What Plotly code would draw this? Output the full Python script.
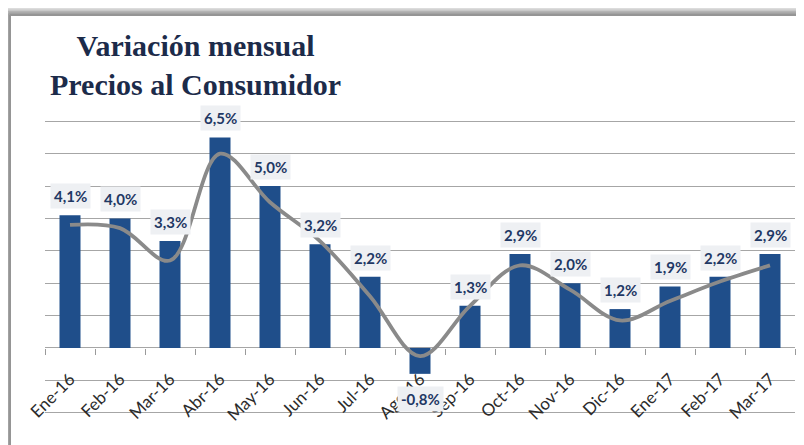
import plotly.graph_objects as go

meses = ['Ene-16', 'Feb-16', 'Mar-16', 'Abr-16', 'May-16', 'Jun-16', 'Jul-16', 'Ago-16',
         'Sep-16', 'Oct-16', 'Nov-16', 'Dic-16', 'Ene-17', 'Feb-17', 'Mar-17']
variacion = [4.1, 4.0, 3.3, 6.5, 5.0, 3.2, 2.2, -0.8, 1.3, 2.9, 2.0, 1.2, 1.9, 2.2, 2.9]
tendencia = [3.8, 3.7, 2.7, 6.0, 4.5, 3.3, 1.6, -0.25, 1.3, 2.55, 1.8, 0.85, 1.45, 2.05, 2.55]
etiquetas = ['4,1%', '4,0%', '3,3%', '6,5%', '5,0%', '3,2%', '2,2%', '-0,8%',
             '1,3%', '2,9%', '2,0%', '1,2%', '1,9%', '2,2%', '2,9%']

# page body has an 8px margin, so the figure is drawn 8px smaller and shifted
OFF = 8
W, H = 804 - OFF, 445 - OFF
ML, MR, MT, MB = 45 - OFF, 9, 120 - OFF, 31
YMIN, YMAX = -2.04, 7.04

navy = '#1f4e8a'
txt = '#1f3864'

fig = go.Figure()
fig.add_trace(go.Bar(x=meses, y=variacion, marker=dict(color=navy, line=dict(width=0)),
                     hoverinfo='skip'))
fig.add_trace(go.Scatter(x=meses, y=tendencia, mode='lines',
                         line=dict(color='#8a8a8a', width=3.8, shape='spline', smoothing=1.0),
                         hoverinfo='skip'))

for m, v, t in zip(meses, variacion, etiquetas):
    fig.add_annotation(x=m, y=v, text=t, showarrow=False,
                       yshift=19 if v >= 0 else -25,
                       bgcolor='#eef0f3', borderpad=3,
                       font=dict(family='Lato', size=15, color=txt, weight='bold'))

# title
fig.add_annotation(xref='paper', yref='paper', x=0.2, y=1.315, xanchor='center', yanchor='top',
                   text='Variación mensual<br>Precios al Consumidor', showarrow=False, align='center',
                   font=dict(family='Liberation Serif', size=30, color='#1c2b4a', weight='bold'))

# frame shadow (top and left edges), given in screen pixels
def px(x):
    return (x - OFF - ML) / (W - ML - MR)

def py(y):
    return (H - MB - (y - OFF)) / (H - MT - MB)

shapes = []
for i, c in enumerate(['#ececec', '#dcdcdc', '#c8c8c8', '#b4b4b4', '#a2a2a2', '#959595']):
    off = 5 - i
    sx = max(10 - off * 1.0, OFF)
    sy = max(15 - off * 1.5, OFF)
    shapes.append(dict(type='line', xref='paper', yref='paper', x0=px(sx), x1=px(820),
                       y0=py(sy), y1=py(sy), line=dict(color=c, width=2)))
    shapes.append(dict(type='line', xref='paper', yref='paper', x0=px(sx), x1=px(sx),
                       y0=py(sy), y1=py(460), line=dict(color=c, width=2)))
fig.update_layout(shapes=shapes)

fig.update_layout(
    width=W, height=H,
    margin=dict(l=ML, r=MR, t=MT, b=MB, autoexpand=False),
    paper_bgcolor='white', plot_bgcolor='white',
    showlegend=False, bargap=0.58,
)
fig.update_xaxes(
    type='category', anchor='free', position=(0 - YMIN) / (YMAX - YMIN),
    showgrid=False, showline=False, zeroline=False, automargin=False,
    ticks='outside', ticklen=6, tickcolor='#9a9a9a', tickson='boundaries',
    tickangle=-45, ticklabelstandoff=17,
    tickfont=dict(family='Lato', size=17, color='#2b2b2b'),
)
fig.update_yaxes(
    range=[YMIN, YMAX], dtick=1, showticklabels=False, automargin=False,
    showgrid=True, gridcolor='#a6a6a6', gridwidth=1,
    zeroline=True, zerolinecolor='#a6a6a6', zerolinewidth=1,
)

fig.write_html("out.html")
